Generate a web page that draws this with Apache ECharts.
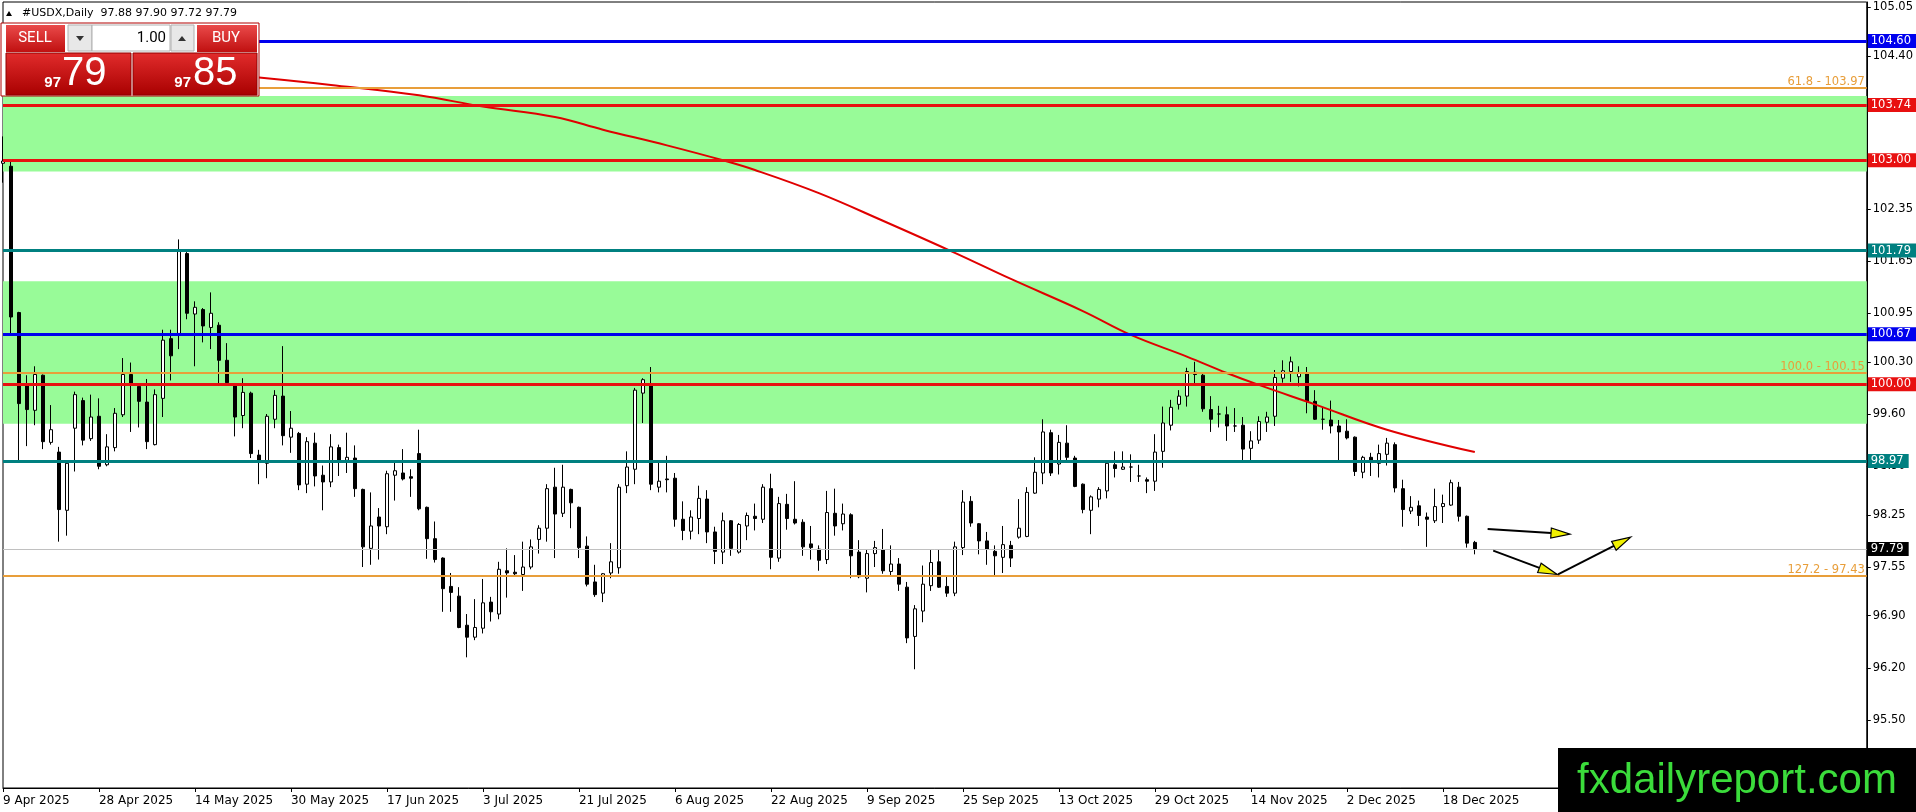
<!DOCTYPE html>
<html>
<head>
<meta charset="utf-8">
<title>#USDX,Daily</title>
<script src="https://cdn.jsdelivr.net/npm/echarts@6/dist/echarts.min.js"></script>
<style>
  html, body { margin: 0; padding: 0; background: #fff; }
  #chart { width: 1916px; height: 812px; }
</style>
</head>
<body>
<div id="chart"></div>
<script>
var symbolName = '#USDX,Daily';

// one label every 12 bars
var dateLabels = ['9 Apr 2025', '28 Apr 2025', '14 May 2025', '30 May 2025', '17 Jun 2025', '3 Jul 2025',
  '21 Jul 2025', '6 Aug 2025', '22 Aug 2025', '9 Sep 2025', '25 Sep 2025', '13 Oct 2025',
  '29 Oct 2025', '14 Nov 2025', '2 Dec 2025', '18 Dec 2025'];

var opens = [102.96, 102.92, 100.96, 99.98, 99.65, 100.12, 99.22, 99.09, 98.31, 99.41,
  99.78, 99.27, 99.57, 98.92, 99.15, 99.59, 100.13, 99.97, 99.76, 99.19,
  99.81, 100.61, 100.68, 101.75, 100.94, 101.00, 100.76, 100.79, 100.32, 99.99,
  99.58, 99.88, 99.05, 98.94, 99.53, 99.84, 99.29, 99.34, 98.66, 99.21,
  98.78, 98.69, 99.15, 98.98, 99.01, 98.59, 97.80, 98.22, 98.09, 98.78,
  98.81, 98.76, 99.07, 98.35, 97.93, 97.67, 97.29, 97.16, 96.77, 96.61,
  96.73, 97.08, 96.92, 97.50, 97.48, 97.45, 97.55, 97.92, 98.07, 98.62,
  98.27, 98.59, 98.35, 97.83, 97.35, 97.20, 97.47, 97.54, 98.64, 98.86,
  99.88, 99.98, 98.62, 98.73, 98.74, 98.19, 98.03, 98.20, 98.46, 98.02,
  97.75, 98.17, 97.75, 98.10, 98.23, 98.19, 98.60, 97.67, 98.39, 98.19,
  98.15, 97.86, 97.79, 97.65, 98.27, 98.13, 98.25, 97.75, 97.40, 97.73,
  97.78, 97.49, 97.59, 97.28, 96.62, 96.96, 97.30, 97.62, 97.29, 97.20,
  97.81, 98.43, 98.13, 97.90, 97.76, 97.68, 97.84, 97.95, 97.96, 98.54,
  98.81, 99.35, 98.93, 99.21, 99.01, 98.66, 98.31, 98.46, 98.57, 98.92,
  98.86, 98.89, 98.77, 98.72, 98.70, 99.10, 99.45, 99.73, 99.84, 100.16,
  100.12, 99.66, 99.60, 99.59, 99.44, 99.45, 99.14, 99.25, 99.49, 99.57,
  100.08, 100.17, 100.10, 100.15, 99.77, 99.53, 99.52, 99.44, 99.37, 99.29,
  98.82, 99.02, 98.94, 99.06, 99.19, 98.60, 98.30, 98.37, 98.22, 98.17,
  98.36, 98.38, 98.62, 98.23, 97.88];

var highs = [103.32, 102.98, 100.97, 100.12, 100.24, 100.13, 99.72, 99.16, 98.95, 99.90,
  99.82, 99.86, 99.81, 99.33, 99.68, 100.35, 100.29, 99.97, 100.07, 99.93,
  100.73, 100.73, 101.94, 101.77, 101.11, 101.02, 101.23, 100.83, 100.55, 100.00,
  100.08, 99.90, 99.12, 99.60, 99.92, 100.51, 99.64, 99.36, 99.29, 99.35,
  98.91, 99.33, 99.19, 99.35, 99.18, 98.60, 98.55, 98.34, 98.84, 98.96,
  99.13, 98.86, 99.39, 98.36, 98.16, 97.68, 97.47, 97.28, 96.92, 97.12,
  97.39, 97.15, 97.62, 97.80, 97.71, 97.89, 97.92, 98.11, 98.66, 98.88,
  98.92, 98.60, 98.36, 97.96, 97.58, 97.47, 97.87, 98.66, 99.10, 99.95,
  100.08, 100.23, 98.95, 99.04, 98.81, 98.43, 98.31, 98.64, 98.58, 98.09,
  98.28, 98.18, 98.14, 98.28, 98.40, 98.66, 98.80, 98.49, 98.53, 98.70,
  98.19, 98.10, 97.84, 98.57, 98.60, 98.40, 98.27, 97.91, 97.79, 97.90,
  98.06, 97.84, 97.67, 97.35, 97.04, 97.57, 97.78, 97.79, 97.42, 97.89,
  98.58, 98.50, 98.14, 98.02, 97.84, 98.10, 97.90, 98.46, 98.62, 99.02,
  99.53, 99.39, 99.32, 99.45, 99.04, 98.67, 98.51, 98.62, 98.95, 99.10,
  99.10, 99.06, 98.92, 98.75, 99.33, 99.70, 99.79, 99.92, 100.22, 100.30,
  100.15, 99.84, 99.71, 99.70, 99.68, 99.56, 99.37, 99.57, 99.63, 100.19,
  100.32, 100.37, 100.24, 100.23, 99.92, 99.68, 99.78, 99.52, 99.53, 99.30,
  99.04, 99.08, 99.19, 99.28, 99.22, 98.72, 98.50, 98.44, 98.28, 98.60,
  98.52, 98.72, 98.69, 98.24, 97.90];

var lows = [102.70, 100.67, 98.98, 99.17, 99.45, 99.13, 99.19, 97.89, 97.97, 98.83,
  99.18, 99.24, 98.86, 98.90, 99.10, 99.56, 99.36, 99.42, 99.13, 99.18,
  99.56, 100.05, 100.47, 100.87, 100.24, 100.56, 100.47, 100.00, 99.99, 99.30,
  99.41, 99.01, 98.66, 98.74, 99.41, 99.18, 99.08, 98.58, 98.54, 98.63,
  98.31, 98.62, 98.77, 98.81, 98.49, 97.55, 97.58, 97.65, 97.99, 98.44,
  98.71, 98.49, 98.31, 97.66, 97.61, 96.95, 96.95, 96.73, 96.34, 96.57,
  96.66, 96.82, 96.85, 97.14, 97.44, 97.23, 97.52, 97.73, 97.89, 97.67,
  98.22, 98.07, 97.67, 97.29, 97.15, 97.08, 97.40, 97.46, 98.54, 98.66,
  99.48, 98.58, 98.55, 98.55, 98.09, 97.91, 97.92, 97.99, 97.87, 97.59,
  97.59, 97.70, 97.73, 97.91, 98.04, 98.14, 97.52, 97.62, 98.05, 98.12,
  97.70, 97.65, 97.50, 97.59, 97.97, 98.04, 97.40, 97.40, 97.21, 97.55,
  97.46, 97.44, 97.23, 96.53, 96.18, 96.81, 97.23, 97.27, 97.15, 97.16,
  97.71, 98.09, 97.72, 97.58, 97.44, 97.47, 97.55, 97.93, 97.95, 98.53,
  98.66, 98.77, 98.79, 98.95, 98.62, 98.27, 97.99, 98.35, 98.47, 98.75,
  98.85, 98.69, 98.69, 98.54, 98.57, 98.88, 99.38, 99.66, 99.70, 99.99,
  99.63, 99.36, 99.42, 99.24, 99.36, 98.95, 98.95, 99.20, 99.36, 99.44,
  100.02, 100.03, 99.97, 99.61, 99.52, 99.39, 99.34, 98.98, 99.26, 98.77,
  98.74, 98.77, 98.75, 98.91, 98.55, 98.09, 98.26, 98.10, 97.82, 98.14,
  98.14, 98.37, 98.16, 97.81, 97.72];

var closes = [102.99, 100.90, 99.74, 99.66, 100.13, 99.23, 99.39, 98.32, 98.94, 99.86,
  99.25, 99.56, 98.90, 99.16, 99.61, 100.13, 100.01, 99.77, 99.23, 99.86,
  100.59, 100.38, 101.78, 100.95, 101.03, 100.78, 100.95, 100.32, 100.02, 99.56,
  99.89, 99.07, 98.95, 99.57, 99.85, 99.31, 99.41, 98.65, 99.23, 98.77,
  98.69, 99.16, 98.98, 99.02, 98.60, 97.82, 98.10, 98.10, 98.80, 98.84,
  98.73, 98.74, 98.33, 97.93, 97.65, 97.26, 97.21, 96.74, 96.61, 96.74,
  97.07, 96.95, 97.52, 97.47, 97.46, 97.55, 97.82, 98.07, 98.60, 98.26,
  98.62, 98.41, 97.81, 97.32, 97.18, 97.46, 97.62, 98.62, 98.89, 99.92,
  100.06, 98.66, 98.70, 98.72, 98.19, 98.04, 98.22, 98.47, 98.02, 97.76,
  98.17, 97.80, 98.12, 98.24, 98.20, 98.62, 97.68, 98.40, 98.20, 98.14,
  97.82, 97.81, 97.64, 98.28, 98.10, 98.26, 97.70, 97.42, 97.73, 97.81,
  97.50, 97.59, 97.32, 96.60, 96.99, 97.32, 97.61, 97.28, 97.20, 97.82,
  98.42, 98.14, 97.90, 97.79, 97.70, 97.85, 97.67, 98.07, 98.55, 98.82,
  99.36, 98.81, 99.22, 99.02, 98.63, 98.32, 98.49, 98.59, 98.94, 98.87,
  98.89, 98.89, 98.77, 98.70, 99.09, 99.48, 99.69, 99.84, 100.17, 100.13,
  99.67, 99.53, 99.60, 99.44, 99.44, 99.13, 99.24, 99.50, 99.56, 100.09,
  100.18, 100.30, 100.15, 99.77, 99.53, 99.53, 99.44, 99.36, 99.28, 98.83,
  99.02, 98.95, 99.07, 99.21, 98.61, 98.32, 98.35, 98.24, 98.19, 98.36,
  98.40, 98.68, 98.23, 97.87, 97.79];

// moving average, read at a few bars (index, value)
var maIndex = [32, 41, 52, 60, 69, 75, 83, 90, 94, 102, 110, 119, 126, 135, 141, 148, 153, 157, 164, 173, 184];
var maValues = [104.11, 104.01, 103.87, 103.72, 103.58, 103.41, 103.20, 103.00, 102.87, 102.56, 102.19,
  101.76, 101.41, 100.98, 100.66, 100.37, 100.15, 99.99, 99.73, 99.39, 99.09];

var yTickValues = [105.05, 104.40, 103.70, 103.00, 102.35, 101.65, 100.95, 100.30, 99.60, 98.90,
  98.25, 97.55, 96.90, 96.20, 95.50, 94.85];

var levelValues = [104.60, 103.74, 103.00, 101.79, 100.67, 100.00, 98.97];
var levelColors = ['#0000ee', '#e81010', '#e81010', '#008080', '#0000ee', '#e81010', '#008080'];

var fiboRatios = ['61.8', '100.0', '127.2'];
var fiboValues = [103.97, 100.15, 97.43];

var zoneTops = [103.86, 101.38];
var zoneBottoms = [102.85, 99.47];

// drawn arrows: [bar index, price]
var arrowFrom = [[185.6, 98.06], [186.3, 97.77], [194.4, 97.45]];
var arrowTo = [[195.9, 97.99], [194.3, 97.45], [203.5, 97.95]];

var slotCount = 234;
var font = '"DejaVu Sans", Tahoma, sans-serif';
var orange = '#e89e3a';

var cats = [];
for (var i = 0; i < slotCount; i++) cats.push(String(i));

var candles = opens.map(function (o, k) { return [o, closes[k], lows[k], highs[k]]; });
var maData = maIndex.map(function (x, k) { return [x, maValues[k]]; });
var lastClose = closes[closes.length - 1];

function showDate(idx) { return idx % 12 === 0 && idx / 12 < dateLabels.length; }

var markLines = levelValues.map(function (v, k) {
  return {
    yAxis: v,
    lineStyle: { color: levelColors[k], width: 3, type: 'solid' },
    label: {
      show: true, position: 'end', distance: 1, formatter: v.toFixed(2),
      color: '#fff', backgroundColor: levelColors[k], padding: [1, 5, 0, 3],
      fontSize: 11.5, lineHeight: 13, fontFamily: font
    }
  };
});
fiboValues.forEach(function (v, k) {
  markLines.push({
    yAxis: v,
    lineStyle: { color: orange, width: 2, type: 'solid' },
    label: {
      show: true, position: 'insideEndTop', distance: [2, 0],
      formatter: fiboRatios[k] + ' - ' + v.toFixed(2),
      color: orange, fontSize: 11.5, fontFamily: font
    }
  });
});
markLines.push({
  yAxis: lastClose,
  lineStyle: { color: '#c0c0c0', width: 1, type: 'solid' },
  label: {
    show: true, position: 'end', distance: 1, formatter: lastClose.toFixed(2),
    color: '#fff', backgroundColor: '#000', padding: [1, 5, 0, 3],
    fontSize: 11.5, lineHeight: 13, fontFamily: font
  }
});

var zones = zoneTops.map(function (t, k) {
  return [{ yAxis: t }, { yAxis: zoneBottoms[k] }];
});

var chart = echarts.init(document.getElementById('chart'));

chart.setOption({
  animation: false,
  backgroundColor: '#fff',
  textStyle: { fontFamily: font },
  grid: { left: 3, right: 49, top: 2, bottom: 24, show: true, borderColor: '#000', borderWidth: 1 },
  xAxis: {
    type: 'category',
    data: cats,
    boundaryGap: false,
    axisLine: { lineStyle: { color: '#000', width: 1 } },
    axisTick: { interval: showDate, length: 4, lineStyle: { color: '#000' } },
    axisLabel: {
      interval: showDate,
      formatter: function (val, idx) { return dateLabels[idx / 12] || ''; },
      align: 'left', margin: 7, color: '#000', fontSize: 12, fontFamily: font
    },
    splitLine: { show: false }
  },
  yAxis: {
    type: 'value',
    position: 'right',
    min: 94.589,
    max: 105.121,
    splitLine: { show: false },
    axisLine: { show: true, lineStyle: { color: '#000', width: 1 } },
    axisTick: { show: true, customValues: yTickValues, length: 4, lineStyle: { color: '#000' } },
    axisLabel: {
      customValues: yTickValues,
      formatter: function (v) { return v.toFixed(2); },
      color: '#000', fontSize: 11.5, fontFamily: font, margin: 6
    }
  },
  series: [
    {
      name: 'zones', type: 'line', data: [], z: 1, silent: true,
      markArea: { silent: true, itemStyle: { color: '#98fb98' }, data: zones }
    },
    {
      name: symbolName, type: 'candlestick', data: candles, z: 2, barWidth: 4,
      itemStyle: {
        color: '#fff', color0: '#000',
        borderColor: '#000', borderColor0: '#000', borderColorDoji: '#000', borderWidth: 1
      }
    },
    {
      name: 'MA', type: 'line', data: maData, z: 3, smooth: 0.4, showSymbol: false, silent: true,
      lineStyle: { color: '#e00000', width: 2 }
    },
    {
      name: 'levels', type: 'line', data: [], z: 4, silent: true,
      markLine: { silent: true, symbol: ['none', 'none'], animation: false, data: markLines }
    }
  ]
});

// overlay: one-click panel, header, arrows, watermark
function px(pt) {
  var a = chart.convertToPixel({ xAxisIndex: 0 }, 0);
  var b = chart.convertToPixel({ xAxisIndex: 0 }, 1);
  var y = chart.convertToPixel({ yAxisIndex: 0 }, pt[1]);
  return [a + pt[0] * (b - a), y];
}

var redGrad = new echarts.graphic.LinearGradient(0, 0, 0, 1, [
  { offset: 0, color: '#ea4a4a' }, { offset: 1, color: '#c01010' }
]);
var bigGrad = new echarts.graphic.LinearGradient(0, 0, 0, 1, [
  { offset: 0, color: '#e22c2c' }, { offset: 1, color: '#a80000' }
]);

var g = [];
g.push({ type: 'polygon', shape: { points: [[6, 16], [12, 16], [9, 11]] }, style: { fill: '#000' }, z: 100 });
g.push({
  type: 'text', x: 22, y: 13, z: 100,
  style: {
    text: symbolName + '  ' + opens[opens.length - 1].toFixed(2) + ' ' + highs[highs.length - 1].toFixed(2) + ' ' +
      lows[lows.length - 1].toFixed(2) + ' ' + lastClose.toFixed(2),
    fill: '#000', font: '11px ' + font, verticalAlign: 'middle'
  }
});
g.push({ type: 'rect', shape: { x: 1, y: 23, width: 258, height: 73 }, style: { fill: '#fff', stroke: '#b00000', lineWidth: 1 }, z: 100 });
g.push({ type: 'rect', shape: { x: 6, y: 25, width: 59, height: 27 }, style: { fill: redGrad }, z: 101 });
g.push({ type: 'text', x: 35, y: 38.5, z: 102, style: { text: 'SELL', fill: '#fff', font: '15px Roboto, sans-serif', align: 'center', verticalAlign: 'middle' } });
g.push({ type: 'rect', shape: { x: 68, y: 25, width: 24, height: 26 }, style: { fill: '#e8e8e8', stroke: '#b0b0b0' }, z: 101 });
g.push({ type: 'polygon', shape: { points: [[76, 36], [84, 36], [80, 41]] }, style: { fill: '#333' }, z: 102 });
g.push({ type: 'rect', shape: { x: 92, y: 25, width: 78, height: 26 }, style: { fill: '#fff', stroke: '#b0b0b0' }, z: 101 });
g.push({ type: 'text', x: 166, y: 38, z: 102, style: { text: '1.00', fill: '#000', font: '15px Roboto, sans-serif', align: 'right', verticalAlign: 'middle' } });
g.push({ type: 'rect', shape: { x: 171, y: 25, width: 23, height: 26 }, style: { fill: '#e8e8e8', stroke: '#b0b0b0' }, z: 101 });
g.push({ type: 'polygon', shape: { points: [[178, 41], [186, 41], [182, 36]] }, style: { fill: '#333' }, z: 102 });
g.push({ type: 'rect', shape: { x: 197, y: 25, width: 60, height: 27 }, style: { fill: redGrad }, z: 101 });
g.push({ type: 'text', x: 226, y: 38.5, z: 102, style: { text: 'BUY', fill: '#fff', font: '15px Roboto, sans-serif', align: 'center', verticalAlign: 'middle' } });
g.push({ type: 'rect', shape: { x: 6, y: 53, width: 125, height: 42 }, style: { fill: bigGrad, stroke: '#900000' }, z: 101 });
g.push({ type: 'rect', shape: { x: 133, y: 53, width: 124, height: 42 }, style: { fill: bigGrad, stroke: '#900000' }, z: 101 });
var bidStr = lastClose.toFixed(2).split('.');
var askStr = (lastClose + 0.06).toFixed(2).split('.');
g.push({ type: 'text', x: 61, y: 90, z: 102, style: { text: bidStr[0], fill: '#fff', font: 'bold 15px "Liberation Sans", sans-serif', align: 'right', verticalAlign: 'bottom' } });
g.push({ type: 'text', x: 62, y: 94, z: 102, style: { text: bidStr[1], fill: '#fff', font: '40px "Liberation Sans", sans-serif', align: 'left', verticalAlign: 'bottom' } });
g.push({ type: 'text', x: 191, y: 90, z: 102, style: { text: askStr[0], fill: '#fff', font: 'bold 15px "Liberation Sans", sans-serif', align: 'right', verticalAlign: 'bottom' } });
g.push({ type: 'text', x: 193, y: 94, z: 102, style: { text: askStr[1], fill: '#fff', font: '40px "Liberation Sans", sans-serif', align: 'left', verticalAlign: 'bottom' } });

arrowFrom.forEach(function (from, k) {
  var p0 = px(from), p1 = px(arrowTo[k]);
  var dx = p1[0] - p0[0], dy = p1[1] - p0[1];
  var len = Math.sqrt(dx * dx + dy * dy);
  var ux = dx / len, uy = dy / len;
  var bx = p1[0] - ux * 19, by = p1[1] - uy * 19;
  g.push({ type: 'line', shape: { x1: p0[0], y1: p0[1], x2: bx, y2: by }, style: { stroke: '#000', lineWidth: 2 }, z: 50 });
  g.push({
    type: 'polygon', z: 51,
    shape: { points: [[p1[0], p1[1]], [bx - uy * 5, by + ux * 5], [bx + uy * 5, by - ux * 5]] },
    style: { fill: '#f0f000', stroke: '#000', lineWidth: 1.2 }
  });
});

g.push({ type: 'rect', shape: { x: 1558, y: 748, width: 358, height: 64 }, style: { fill: '#000' }, z: 100 });
g.push({ type: 'text', x: 1737, y: 781, z: 101, style: { text: 'fxdailyreport.com', fill: '#3bdc3b', font: '42px "Liberation Sans", Arial, sans-serif', align: 'center', verticalAlign: 'middle' } });

chart.setOption({ graphic: g });
</script>
</body>
</html>
